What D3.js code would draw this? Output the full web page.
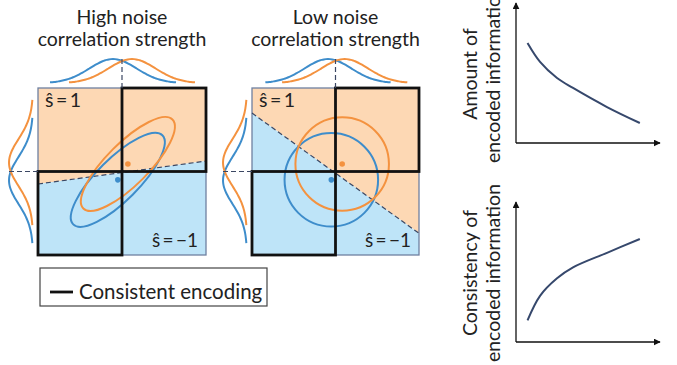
<!DOCTYPE html>
<html>
<head>
<meta charset="utf-8">
<script src="https://cdn.jsdelivr.net/npm/d3@7/dist/d3.min.js"></script>
<style>
  html, body { margin: 0; padding: 0; background: #fff; }
  svg { display: block; }
  text { font-family: Lato, "Open Sans", sans-serif; fill: #222; }
</style>
</head>
<body>
<svg id="fig" width="677" height="365"></svg>
<script>
// ---- data -------------------------------------------------------------
const panelTitles = [["High noise", "correlation strength"], ["Low noise", "correlation strength"]];
// class means (decoded value ŝ = 1 is orange, ŝ = −1 is blue), in stimulus units
const meansOrange = [[0.07, 0.09], [0.08, 0.09]];
const meansBlue = [[-0.05, -0.10], [-0.05, -0.10]];
// noise ellipse semi-axes (major, minor) and tilt in degrees
const noiseAxes = [[0.75, 0.25], [0.56, 0.56]];
const noiseTilt = [45, 0];
// decision boundary: y at x = −1 and at x = 1
const boundaryY = [[-0.15, 0.125], [0.70, -0.74]];
// marginal means: top (x) and left (y), [blue, orange]
const topMarginalMeans = [[-0.107, 0.119], [-0.09, 0.11]];
const leftMarginalMeans = [[-0.107, 0.107], [-0.107, 0.107]];
const marginalSigma = 0.28;
const decodedLabels = ["ŝ\u2009=\u20091", "ŝ\u2009=\u2009−1"];
const legendLabel = "Consistent encoding";

// trend curves against noise correlation strength
const trendX = [0.8, 1.67, 2.85, 3.96, 6.32, 8.6];
const amountInfo = [7.14, 5.79, 4.64, 3.93, 2.57, 1.43];
const consistencyInfo = [1.55, 3.3, 4.55, 5.33, 6.37, 7.36];
const trendLabels = [["Amount of", "encoded information"], ["Consistency of", "encoded information"]];

// ---- style ------------------------------------------------------------
const ORANGE = "#f4923f", BLUE = "#3e8dcb";
const ORANGE_FILL = "#fdd8b4", BLUE_FILL = "#bee4f8";
const FRAME = "#6f80a0", DASH = "#3b4763", CURVE = "#36486c";

const svg = d3.select("#fig");
svg.append("rect").attr("width", 677).attr("height", 365).attr("fill", "#fff");

const defs = svg.append("defs");
defs.append("marker").attr("id", "arrow")
  .attr("viewBox", "0 0 10 10").attr("refX", 9).attr("refY", 5)
  .attr("markerWidth", 7).attr("markerHeight", 7).attr("markerUnits", "userSpaceOnUse")
  .attr("orient", "auto")
  .append("path").attr("d", "M0,0 L10,5 L0,10 Z").attr("fill", "#111");

// ---- scatter panels ---------------------------------------------------
const panelBoxes = [
  { x0: 38, x1: 206, y0: 88, y1: 255 },
  { x0: 252, x1: 419, y0: 88, y1: 255 }
];

panelBoxes.forEach((box, i) => {
  const g = svg.append("g");
  const x = d3.scaleLinear().domain([-1, 1]).range([box.x0, box.x1]);
  const y = d3.scaleLinear().domain([-1, 1]).range([box.y1, box.y0]);
  const cx = (box.x0 + box.x1) / 2;

  // titles
  g.append("text").attr("x", cx).attr("y", 24).attr("text-anchor", "middle")
    .attr("font-size", 19.5).text(panelTitles[i][0]);
  g.append("text").attr("x", cx).attr("y", 45.5).attr("text-anchor", "middle")
    .attr("font-size", 19.5).text(panelTitles[i][1]);

  // decoded regions split by the decision boundary
  const [yl, yr] = boundaryY[i];
  const poly = d3.line().x(d => x(d[0])).y(d => y(d[1]));
  g.append("path").attr("d", poly([[-1, 1], [1, 1], [1, yr], [-1, yl]]) + "Z").attr("fill", ORANGE_FILL);
  g.append("path").attr("d", poly([[-1, yl], [1, yr], [1, -1], [-1, -1]]) + "Z").attr("fill", BLUE_FILL);
  g.append("rect").attr("x", x(-1)).attr("y", y(1))
    .attr("width", x(1) - x(-1)).attr("height", y(-1) - y(1))
    .attr("fill", "none").attr("stroke", FRAME).attr("stroke-width", 1.3);

  g.append("line").attr("x1", x(-1)).attr("y1", y(yl)).attr("x2", x(1)).attr("y2", y(yr))
    .attr("stroke", DASH).attr("stroke-width", 1.2).attr("stroke-dasharray", "5,3");

  // noise ellipses
  const [a, b] = noiseAxes[i];
  const unit = x(1) - x(0);
  [[meansBlue[i], BLUE], [meansOrange[i], ORANGE]].forEach(([m, col]) => {
    g.append("ellipse")
      .attr("transform", `translate(${x(m[0])},${y(m[1])}) rotate(${-noiseTilt[i]})`)
      .attr("rx", a * unit).attr("ry", b * unit)
      .attr("fill", "none").attr("stroke", col).attr("stroke-width", 2);
  });
  [[meansBlue[i], BLUE], [meansOrange[i], ORANGE]].forEach(([m, col]) => {
    g.append("circle").attr("cx", x(m[0])).attr("cy", y(m[1])).attr("r", 2.8).attr("fill", col);
  });

  // quadrants where both neurons agree
  [[0, 1, 1, 0], [-1, 0, 0, -1]].forEach(([qx0, qy0, qx1, qy1]) => {
    g.append("rect").attr("x", x(qx0)).attr("y", y(qy0))
      .attr("width", x(qx1) - x(qx0)).attr("height", y(qy1) - y(qy0))
      .attr("fill", "none").attr("stroke", "#111").attr("stroke-width", 2.8);
  });

  // decoded labels
  g.append("text").attr("x", box.x0 + 7).attr("y", box.y0 + 19).attr("font-size", 19.5).text(decodedLabels[0]);
  g.append("text").attr("x", box.x1 - 8).attr("y", box.y1 - 8).attr("text-anchor", "end")
    .attr("font-size", 19).text(decodedLabels[1]);

  // marginal distributions
  const gauss = (t, m) => Math.exp(-((t - m) ** 2) / (2 * marginalSigma * marginalSigma));
  const ts = d3.range(-0.75, 0.7501, 0.025);
  const topH = d3.scaleLinear().domain([0, 1]).range([box.y0 - 5, box.y0 - 29]);
  const leftH = d3.scaleLinear().domain([0, 1]).range([box.x0 - 5, box.x0 - 29]);
  [BLUE, ORANGE].forEach((col, k) => {
    const mt = topMarginalMeans[i][k];
    g.append("path")
      .attr("d", d3.line().curve(d3.curveBasis).x(t => x(mt + t)).y(t => topH(gauss(mt + t, mt)))(ts))
      .attr("fill", "none").attr("stroke", col).attr("stroke-width", 2);
    const ml = leftMarginalMeans[i][k];
    g.append("path")
      .attr("d", d3.line().curve(d3.curveBasis).y(t => y(ml + t)).x(t => leftH(gauss(ml + t, ml)))(ts))
      .attr("fill", "none").attr("stroke", col).attr("stroke-width", 2);
  });
  g.append("line").attr("x1", x(0)).attr("x2", x(0)).attr("y1", box.y0 - 29).attr("y2", box.y0)
    .attr("stroke", DASH).attr("stroke-width", 1.2).attr("stroke-dasharray", "5,3");
  g.append("line").attr("x1", box.x0 - 29).attr("x2", box.x0).attr("y1", y(0)).attr("y2", y(0))
    .attr("stroke", DASH).attr("stroke-width", 1.2).attr("stroke-dasharray", "5,3");
});

// ---- legend -----------------------------------------------------------
svg.append("rect").attr("x", 40).attr("y", 268).attr("width", 227).attr("height", 38)
  .attr("fill", "none").attr("stroke", "#444").attr("stroke-width", 1.2);
svg.append("line").attr("x1", 50).attr("x2", 73).attr("y1", 292).attr("y2", 292)
  .attr("stroke", "#111").attr("stroke-width", 2.8);
svg.append("text").attr("x", 79).attr("y", 299).attr("font-size", 20.5).text(legendLabel);

// ---- trend plots ------------------------------------------------------
const trendBoxes = [
  { top: 3, bottom: 143, series: amountInfo },
  { top: 202, bottom: 342, series: consistencyInfo }
];
trendBoxes.forEach((tb, i) => {
  const g = svg.append("g");
  const x = d3.scaleLinear().domain([0, 10]).range([516, 660]);
  const y = d3.scaleLinear().domain([0, 10]).range([tb.bottom, tb.top]);
  g.append("line").attr("x1", x(0)).attr("y1", y(0)).attr("x2", x(0)).attr("y2", y(10))
    .attr("stroke", "#111").attr("stroke-width", 1.3).attr("marker-end", "url(#arrow)");
  g.append("line").attr("x1", x(0)).attr("y1", y(0)).attr("x2", x(10)).attr("y2", y(0))
    .attr("stroke", "#111").attr("stroke-width", 1.3).attr("marker-end", "url(#arrow)");
  g.append("path")
    .attr("d", d3.line().curve(d3.curveCatmullRom).x((d, j) => x(trendX[j])).y(d => y(d))(tb.series))
    .attr("fill", "none").attr("stroke", CURVE).attr("stroke-width", 2);
  const cy = (tb.top + tb.bottom) / 2 + 1;
  const lab = g.append("g").attr("transform", `translate(0,${cy}) rotate(-90)`);
  lab.append("text").attr("x", 0).attr("y", 477).attr("text-anchor", "middle")
    .attr("font-size", 19.5).text(trendLabels[i][0]);
  lab.append("text").attr("x", 0).attr("y", 500).attr("text-anchor", "middle")
    .attr("font-size", 19.5).text(trendLabels[i][1]);
});
</script>
</body>
</html>
